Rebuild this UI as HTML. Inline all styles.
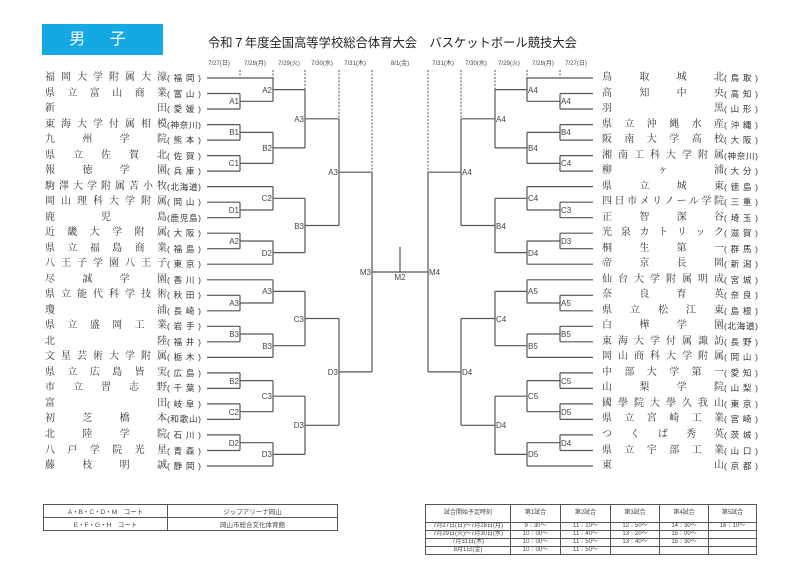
<!DOCTYPE html>
<html><head><meta charset="utf-8">
<style>
*{margin:0;padding:0;box-sizing:border-box}
body{width:800px;height:566px;background:#fff;position:relative;overflow:hidden;font-family:"Liberation Sans","Noto Sans CJK JP",sans-serif;color:#333}
.n{position:absolute;font-size:10px;line-height:12px;height:12px;text-align:justify;text-align-last:justify;white-space:nowrap;font-family:"Liberation Serif","Noto Serif CJK SC",serif}
.p{position:absolute;font-size:8.5px;line-height:12px;height:12px;text-align:justify;text-align-last:justify;white-space:nowrap}
.num{position:absolute;font-size:4px;line-height:12px}
.d{position:absolute;top:58px;font-size:6px;width:40px;margin-left:-20px;text-align:center;color:#444}
table{position:absolute;border-collapse:collapse}
td{border:1px solid #555;text-align:center;padding:0;color:#444}
</style></head><body>
<div style="position:absolute;left:42px;top:24px;width:121px;height:31px;background:#15a9e4;color:#fff;font-size:16px;line-height:31px;text-align:center;letter-spacing:10px">男 子</div>
<div style="position:absolute;left:208px;top:33px;font-size:12.3px;color:#222;white-space:nowrap">令和７年度全国高等学校総合体育大会　バスケットボール競技大会</div>

<div class="d" style="left:219px">7/27(日)</div><div class="d" style="left:255px">7/28(月)</div><div class="d" style="left:289px">7/29(火)</div><div class="d" style="left:322px">7/30(水)</div><div class="d" style="left:355px">7/31(木)</div><div class="d" style="left:400px">8/1(金)</div>
<div class="d" style="left:443px">7/31(木)</div><div class="d" style="left:476px">7/30(水)</div><div class="d" style="left:509px">7/29(火)</div><div class="d" style="left:543px">7/28(月)</div><div class="d" style="left:576px">7/27(日)</div>

<svg width="800" height="566" style="position:absolute;left:0;top:0" font-family="Liberation Sans, sans-serif" font-size="8" fill="#444">
<defs>
<g id="br" stroke="#555" stroke-width="1.2" fill="none">
<path d="M207 78H273M207 93.5H240M207 109H240M207 124.6H240M207 140.1H240M207 155.6H240M207 171.1H240M207 186.6H273M207 202.2H240M207 217.7H240M207 233.2H240M207 248.7H240M207 264.2H273M207 279.8H273M207 295.3H240M207 310.8H240M207 326.3H240M207 341.8H240M207 357.4H273M207 372.9H240M207 388.4H240M207 403.9H240M207 419.4H240M207 434.9H240M207 450.5H240M207 466H273"/>
<path d="M240 93.5V109M240 124.6V140.1M240 155.6V171.1M240 202.2V217.7M240 233.2V248.7M240 295.3V310.8M240 326.3V341.8M240 372.9V388.4M240 403.9V419.4M240 434.9V450.5"/>
<path d="M240 101.3H273M240 132.4H273M240 163.4H273M240 210H273M240 241H273M240 303H273M240 334H273M240 380.6H273M240 411.7H273M240 442.7H273"/>
<path d="M273 78V101.3M273 132.4V163.4M273 186.6V210M273 241V264.2M273 279.8V303M273 334V357.4M273 380.6V411.7M273 442.7V466"/>
<path d="M273 89.6H305M273 147.9H305M273 198.3H305M273 252.6H305M273 291.4H305M273 345.7H305M273 396.2H305M273 454.4H305"/>
<path d="M305 89.6V147.9M305 198.3V252.6M305 291.4V345.7M305 396.2V454.4"/>
<path d="M305 118.8H339M305 225.5H339M305 318.5H339M305 425.3H339"/>
<path d="M339 118.8V225.5M339 318.5V425.3M339 172.2H372M339 371.9H372M372 172.2V371.9M372 272H400"/>
<path d="M240 70V78M273 70V78M305 70V89.6M339 70V118.8M372 70V172.2" stroke-dasharray="2 1.5" stroke-width="1"/>
</g>
</defs>
<use href="#br"/>
<use href="#br" transform="translate(800,0) scale(-1,1)"/>
<path d="M400 247V272" stroke="#555" stroke-width="1.2"/>
<g text-anchor="end">
<text x="239" y="104">A1</text><text x="239" y="135">B1</text><text x="239" y="166">C1</text><text x="239" y="213">D1</text><text x="239" y="244">A2</text><text x="239" y="306">A3</text><text x="239" y="337">B3</text><text x="239" y="384">B2</text><text x="239" y="415">C2</text><text x="239" y="446">D2</text>
<text x="272" y="93">A2</text><text x="272" y="151">B2</text><text x="272" y="201">C2</text><text x="272" y="256">D2</text><text x="272" y="294">A3</text><text x="272" y="349">B3</text><text x="272" y="399">C3</text><text x="272" y="457">D3</text>
<text x="304" y="122">A3</text><text x="304" y="229">B3</text><text x="304" y="322">C3</text><text x="304" y="428">D3</text>
<text x="338" y="175">A3</text><text x="338" y="375">D3</text>
<text x="371" y="275">M3</text>
</g>
<text x="400" y="280" text-anchor="middle">M2</text>
<g>
<text x="561" y="104">A4</text><text x="561" y="135">B4</text><text x="561" y="166">C4</text><text x="561" y="213">C3</text><text x="561" y="244">D3</text><text x="561" y="306">A5</text><text x="561" y="337">B5</text><text x="561" y="384">C5</text><text x="561" y="415">D5</text><text x="561" y="446">D4</text>
<text x="528" y="93">A4</text><text x="528" y="151">B4</text><text x="528" y="201">C4</text><text x="528" y="256">D4</text><text x="528" y="294">A5</text><text x="528" y="349">B5</text><text x="528" y="399">C5</text><text x="528" y="457">D5</text>
<text x="496" y="122">A4</text><text x="496" y="229">B4</text><text x="496" y="322">C4</text><text x="496" y="428">D4</text>
<text x="462" y="175">A4</text><text x="462" y="375">D4</text>
<text x="429" y="275">M4</text>
</g>
</svg>

<div class="n" style="left:45px;top:72px;width:122px">福岡大学附属大濠</div><div class="p" style="left:167px;top:72px;width:34px">(福岡)</div>
<div class="n" style="left:45px;top:87.5px;width:122px">県立富山商業</div><div class="p" style="left:167px;top:87.5px;width:34px">(富山)</div>
<div class="n" style="left:45px;top:103px;width:122px">新田</div><div class="p" style="left:167px;top:103px;width:34px">(愛媛)</div>
<div class="n" style="left:45px;top:118.6px;width:122px">東海大学付属相模</div><div class="p" style="left:167px;top:118.6px;width:34px">(神奈川)</div>
<div class="n" style="left:45px;top:134.1px;width:122px">九州学院</div><div class="p" style="left:167px;top:134.1px;width:34px">(熊本)</div>
<div class="n" style="left:45px;top:149.6px;width:122px">県立佐賀北</div><div class="p" style="left:167px;top:149.6px;width:34px">(佐賀)</div>
<div class="n" style="left:45px;top:165.1px;width:122px">報徳学園</div><div class="p" style="left:167px;top:165.1px;width:34px">(兵庫)</div>
<div class="n" style="left:45px;top:180.6px;width:122px">駒澤大学附属苫小牧</div><div class="p" style="left:167px;top:180.6px;width:34px">(北海道)</div>
<div class="n" style="left:45px;top:196.2px;width:122px">岡山理科大学附属</div><div class="p" style="left:167px;top:196.2px;width:34px">(岡山)</div>
<div class="n" style="left:45px;top:211.7px;width:122px">鹿児島</div><div class="p" style="left:167px;top:211.7px;width:34px">(鹿児島)</div>
<div class="n" style="left:45px;top:227.2px;width:122px">近畿大学附属</div><div class="p" style="left:167px;top:227.2px;width:34px">(大阪)</div>
<div class="n" style="left:45px;top:242.7px;width:122px">県立福島商業</div><div class="p" style="left:167px;top:242.7px;width:34px">(福島)</div>
<div class="n" style="left:45px;top:258.2px;width:122px">八王子学園八王子</div><div class="p" style="left:167px;top:258.2px;width:34px">(東京)</div>
<div class="n" style="left:45px;top:273.8px;width:122px">尽誠学園</div><div class="p" style="left:167px;top:273.8px;width:34px">(香川)</div>
<div class="n" style="left:45px;top:289.3px;width:122px">県立能代科学技術</div><div class="p" style="left:167px;top:289.3px;width:34px">(秋田)</div>
<div class="n" style="left:45px;top:304.8px;width:122px">瓊浦</div><div class="p" style="left:167px;top:304.8px;width:34px">(長崎)</div>
<div class="n" style="left:45px;top:320.3px;width:122px">県立盛岡工業</div><div class="p" style="left:167px;top:320.3px;width:34px">(岩手)</div>
<div class="n" style="left:45px;top:335.8px;width:122px">北陸</div><div class="p" style="left:167px;top:335.8px;width:34px">(福井)</div>
<div class="n" style="left:45px;top:351.4px;width:122px">文星芸術大学附属</div><div class="p" style="left:167px;top:351.4px;width:34px">(栃木)</div>
<div class="n" style="left:45px;top:366.9px;width:122px">県立広島皆実</div><div class="p" style="left:167px;top:366.9px;width:34px">(広島)</div>
<div class="n" style="left:45px;top:382.4px;width:122px">市立習志野</div><div class="p" style="left:167px;top:382.4px;width:34px">(千葉)</div>
<div class="n" style="left:45px;top:397.9px;width:122px">富田</div><div class="p" style="left:167px;top:397.9px;width:34px">(岐阜)</div>
<div class="n" style="left:45px;top:413.4px;width:122px">初芝橋本</div><div class="p" style="left:167px;top:413.4px;width:34px">(和歌山)</div>
<div class="n" style="left:45px;top:428.9px;width:122px">北陸学院</div><div class="p" style="left:167px;top:428.9px;width:34px">(石川)</div>
<div class="n" style="left:45px;top:444.5px;width:122px">八戸学院光星</div><div class="p" style="left:167px;top:444.5px;width:34px">(青森)</div>
<div class="n" style="left:45px;top:460px;width:122px">藤枝明誠</div><div class="p" style="left:167px;top:460px;width:34px">(静岡)</div>

<div class="n" style="left:602px;top:72px;width:122px">鳥取城北</div><div class="p" style="left:724px;top:72px;width:34px">(鳥取)</div>
<div class="n" style="left:602px;top:87.5px;width:122px">高知中央</div><div class="p" style="left:724px;top:87.5px;width:34px">(高知)</div>
<div class="n" style="left:602px;top:103px;width:122px">羽黒</div><div class="p" style="left:724px;top:103px;width:34px">(山形)</div>
<div class="n" style="left:602px;top:118.6px;width:122px">県立沖縄水産</div><div class="p" style="left:724px;top:118.6px;width:34px">(沖縄)</div>
<div class="n" style="left:602px;top:134.1px;width:122px">阪南大学高校</div><div class="p" style="left:724px;top:134.1px;width:34px">(大阪)</div>
<div class="n" style="left:602px;top:149.6px;width:122px">湘南工科大学附属</div><div class="p" style="left:724px;top:149.6px;width:34px">(神奈川)</div>
<div class="n" style="left:602px;top:165.1px;width:122px">柳ヶ浦</div><div class="p" style="left:724px;top:165.1px;width:34px">(大分)</div>
<div class="n" style="left:602px;top:180.6px;width:122px">県立城東</div><div class="p" style="left:724px;top:180.6px;width:34px">(徳島)</div>
<div class="n" style="left:602px;top:196.2px;width:122px">四日市メリノール学院</div><div class="p" style="left:724px;top:196.2px;width:34px">(三重)</div>
<div class="n" style="left:602px;top:211.7px;width:122px">正智深谷</div><div class="p" style="left:724px;top:211.7px;width:34px">(埼玉)</div>
<div class="n" style="left:602px;top:227.2px;width:122px">光泉カトリック</div><div class="p" style="left:724px;top:227.2px;width:34px">(滋賀)</div>
<div class="n" style="left:602px;top:242.7px;width:122px">桐生第一</div><div class="p" style="left:724px;top:242.7px;width:34px">(群馬)</div>
<div class="n" style="left:602px;top:258.2px;width:122px">帝京長岡</div><div class="p" style="left:724px;top:258.2px;width:34px">(新潟)</div>
<div class="n" style="left:602px;top:273.8px;width:122px">仙台大学附属明成</div><div class="p" style="left:724px;top:273.8px;width:34px">(宮城)</div>
<div class="n" style="left:602px;top:289.3px;width:122px">奈良育英</div><div class="p" style="left:724px;top:289.3px;width:34px">(奈良)</div>
<div class="n" style="left:602px;top:304.8px;width:122px">県立松江東</div><div class="p" style="left:724px;top:304.8px;width:34px">(島根)</div>
<div class="n" style="left:602px;top:320.3px;width:122px">白樺学園</div><div class="p" style="left:724px;top:320.3px;width:34px">(北海道)</div>
<div class="n" style="left:602px;top:335.8px;width:122px">東海大学付属諏訪</div><div class="p" style="left:724px;top:335.8px;width:34px">(長野)</div>
<div class="n" style="left:602px;top:351.4px;width:122px">岡山商科大学附属</div><div class="p" style="left:724px;top:351.4px;width:34px">(岡山)</div>
<div class="n" style="left:602px;top:366.9px;width:122px">中部大学第一</div><div class="p" style="left:724px;top:366.9px;width:34px">(愛知)</div>
<div class="n" style="left:602px;top:382.4px;width:122px">山梨学院</div><div class="p" style="left:724px;top:382.4px;width:34px">(山梨)</div>
<div class="n" style="left:602px;top:397.9px;width:122px">國學院大學久我山</div><div class="p" style="left:724px;top:397.9px;width:34px">(東京)</div>
<div class="n" style="left:602px;top:413.4px;width:122px">県立宮崎工業</div><div class="p" style="left:724px;top:413.4px;width:34px">(宮崎)</div>
<div class="n" style="left:602px;top:428.9px;width:122px">つくば秀英</div><div class="p" style="left:724px;top:428.9px;width:34px">(茨城)</div>
<div class="n" style="left:602px;top:444.5px;width:122px">県立宇部工業</div><div class="p" style="left:724px;top:444.5px;width:34px">(山口)</div>
<div class="n" style="left:602px;top:460px;width:122px">東山</div><div class="p" style="left:724px;top:460px;width:34px">(京都)</div>

<table style="left:43px;top:504px;width:295px;font-size:6.5px">
<tr style="height:13px"><td style="width:124px">A・B・C・D・M　コート</td><td>ジップアリーナ岡山</td></tr>
<tr style="height:13px"><td>E・F・G・H　コート</td><td>岡山市総合文化体育館</td></tr>
</table>

<table style="left:425px;top:504px;width:332px;font-size:6px;line-height:7px">
<tr style="height:18px"><td style="width:85px">試合開始予定時刻</td><td style="width:50px">第1試合</td><td style="width:50px">第2試合</td><td style="width:49px">第3試合</td><td style="width:49px">第4試合</td><td>第5試合</td></tr>
<tr style="height:7.5px"><td>7月27日(日)～7月28日(月)</td><td>9：30～</td><td>11：10～</td><td>12：50～</td><td>14：30～</td><td>16：10～</td></tr>
<tr style="height:7.5px"><td>7月29日(火)～7月30日(水)</td><td>10：00～</td><td>11：40～</td><td>13：20～</td><td>15：00～</td><td></td></tr>
<tr style="height:7.5px"><td>7月31日(木)</td><td>10：00～</td><td>11：50～</td><td>13：40～</td><td>15：30～</td><td></td></tr>
<tr style="height:7.5px"><td>8月1日(金)</td><td>10：00～</td><td>11：50～</td><td></td><td></td><td></td></tr>
</table>
</body></html>
